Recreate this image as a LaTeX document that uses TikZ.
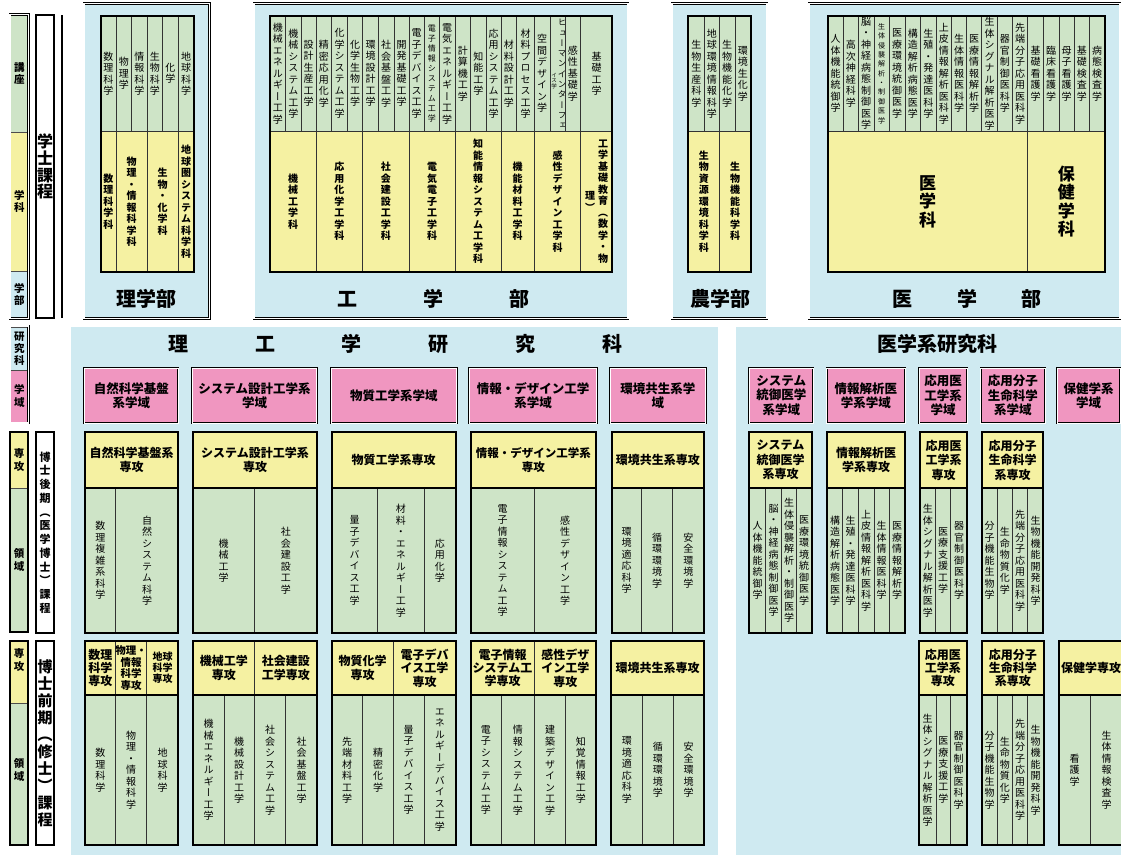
\documentclass[tikz,border=0pt]{standalone}
\usepackage{fontspec}
\setmainfont{Noto Sans CJK JP}
\newfontfamily\jpvert[RawFeature=+vert]{Noto Sans CJK JP}
\definecolor{lblue}{RGB}{207,234,241}
\definecolor{lgreen}{RGB}{206,228,199}
\definecolor{lyellow}{RGB}{245,241,162}
\definecolor{lpink}{RGB}{240,150,192}
\makeatletter
\def\vt@end{\vt@end}
\def\vt@aux#1{\ifx\vt@end#1\else\hbox to 1.1em{\hss#1\hss}\expandafter\vt@aux\fi}
\newcommand\vtB[1]{$\vcenter{\jpvert\baselineskip=\vtpitch\lineskiplimit=-\maxdimen\lineskip=0pt\vt@aux#1\vt@end}$}
\def\vt#1{\expandafter\vtB\expandafter{#1}}
\def\vtpitch{1.15em}
\makeatother
\newcounter{nc}
\newcommand\C[7][]{\stepcounter{nc}\node[#2,#1,minimum width={(#4)-(#3)},minimum height={(#6)-(#5)}] (n\arabic{nc}) at ({((#3)+(#4))/2},{((#5)+(#6))/2}) {#7};}
\newcommand\gcols[5][]{\xdef\px{#4}\foreach \xr/\tx in {#5}{\C[#1]{gcell}{\px}{\xr}{#2}{#3}{\vt{\tx}}\xdef\px{\xr}}}
\newcommand\ycols[5][]{\xdef\px{#4}\foreach \xr/\tx in {#5}{\C[#1]{ycell}{\px}{\xr}{#2}{#3}{\vt{\tx}}\xdef\px{\xr}}}
\tikzset{
 gcell/.style={draw=black!80, line width=0.8pt, fill=lgreen, inner sep=0pt, font=\fontsize{10}{12}\selectfont},
 ycell/.style={draw=black!80, line width=0.8pt, fill=lyellow, inner sep=0pt, font=\bfseries\fontsize{10}{12}\selectfont},
 hcell/.style={draw=black!80, line width=0.8pt, fill=lyellow, inner sep=0pt, align=center, font=\bfseries\fontsize{12}{14.5}\selectfont},
 pinkbox/.style={draw=black, double=white, double distance=1pt, line width=0.6pt, fill=lpink, inner sep=0pt, align=center, font=\bfseries\fontsize{12.5}{14.5}\selectfont},
 facbox/.style={draw=black, double=white, double distance=1.3pt, line width=0.6pt, fill=lblue, inner sep=0pt},
 dbl/.style={draw=black, double=white, double distance=1.1pt, line width=0.6pt},
 tbord/.style={draw=black, line width=2pt},
 ttl/.style={inner sep=0pt, font=\bfseries\fontsize{20}{20}\selectfont},
 lcell/.style={draw=black!70, line width=0.5pt, inner sep=0pt, font=\bfseries\fontsize{10.5}{12}\selectfont},
 cbox/.style={draw=black, line width=1.6pt, fill=white, inner sep=0pt},
 lab/.style={inner sep=0pt, font=\bfseries\fontsize{10.5}{12}\selectfont},
 small8/.style={font={\fontsize{8}{10}\selectfont\def\vtpitch{1.25em}}},
 small7/.style={font={\fontsize{7}{9}\selectfont\def\vtpitch{1.34em}}},
}
\begin{document}
\begin{tikzpicture}[x=1pt,y=-1pt]
\useasboundingbox (0,0) rectangle (1121,854);
\fill[white] (0,0) rectangle (1121,854);

% ================= left labels
\C[fill=lgreen]{lcell}{10}{28.5}{15}{132}{\vt{講座}}
\C[fill=lyellow]{lcell}{10}{28.5}{132}{271}{\vt{学科}}
\C[fill=lblue]{lcell}{10}{28.5}{271}{318}{\vt{学部}}
\draw[dbl] (10,14.5) rectangle (28.5,318.5);
\C[font={\bfseries\fontsize{16}{18}\selectfont\def\vtpitch{1.05em}}]{cbox}{36}{54}{15}{318}{\vt{学士課程}}
\draw[line width=1.6pt] (62,15) -- (62,318);

\C[fill=lblue]{lcell}{10}{28.5}{327}{370}{\vt{研究科}}
\C[fill=lpink]{lcell}{10}{28.5}{370}{422}{\vt{学域}}
\draw[dbl] (10,326) rectangle (28.5,423);

\C[fill=lyellow]{lcell}{10}{28}{432}{488}{\vt{専攻}}
\C[fill=lgreen]{lcell}{10}{28}{488}{632}{\vt{領域}}
\draw[line width=1.5pt] (10,432) rectangle (28,632);
\C[font={\bfseries\fontsize{11}{13}\selectfont\def\vtpitch{1.25em}}]{cbox}{36}{54}{432}{633}{\vt{博士後期（医学博士）課程}}

\C[fill=lyellow]{lcell}{10}{28}{641}{703}{}
\C[fill=lgreen]{lcell}{10}{28}{703}{845}{}
\node[lab] (lsa) at (19,660) {\vt{専攻}};
\node[lab] (lsb) at (19,770) {\vt{領域}};
\draw[line width=1.5pt] (10,641) rectangle (28,845);
\C[font={\bfseries\fontsize{15}{17}\selectfont\def\vtpitch{1.13em}}]{cbox}{36}{54}{641}{845}{\vt{博士前期（修士）課程}}

% ================= 理学部
\C{facbox}{84}{209.5}{3.5}{318.5}{}
\gcols{16}{131}{100.5}{116/数理科学,131.5/物理学,147/情報科学,162.5/生物科学,178/化学,194/地球科学}
\ycols{131}{272}{100.5}{116/数理科学科,147/物理・情報科学科,178/生物・化学科,194/地球圏システム科学科}
\draw[tbord] (100.5,16) rectangle (194,272);
\node[ttl] (f1) at (146,299) {理学部};

% ================= 工学部
\C{facbox}{254}{628}{3.5}{318.5}{}
\gcols{16}{131}{270}{285.7/機械エネルギー工学,301/機械システム工学,316/設計生産工学,331.7/精密応用化学,347.3/化学システム工学,362.7/化学生物工学,378.3/環境設計工学,394/社会基盤工学,409/開発基礎工学,424.3/電子デバイス工学}
\C[small8]{gcell}{424.3}{439.3}{16}{131}{\vt{電子情報システム工学}}
\gcols{16}{131}{439.3}{455/電気エネルギー工学,470.7/計算機工学,486/知能工学,501/応用システム工学,516.7/材料設計工学,534.3/材料プロセス工学,550/空間デザイン学}
\C{gcell}{550}{565}{16}{131}{}
\node[inner sep=0pt, font={\fontsize{8.5}{10}\selectfont\def\vtpitch{1.21em}}] (hu1) at (562,74) {\vt{ヒューマンインターフェ}};
\node[inner sep=0pt, font={\fontsize{5.5}{6}\selectfont\def\vtpitch{1em}}] (hu2) at (554,81) {\vt{イス学}};
\gcols{16}{131}{565}{580.7/感性基礎学,612.3/基礎工学}
\ycols{131}{272}{270}{316/機械工学科,362.7/応用化学工学科,409/社会建設工学科,455/電気電子工学科,501/知能情報システム工学科,534.3/機能材料工学科,580.7/感性デザイン工学科}
\C{ycell}{580.7}{612.3}{131}{272}{\vt{理）}\hspace{2pt}\vt{工学基礎教育（数学・物}}
\draw[tbord] (270,16) rectangle (612.3,272);
\node[ttl] (f2a) at (347.5,299) {工};
\node[ttl] (f2b) at (433,299) {学};
\node[ttl] (f2c) at (519,299) {部};

% ================= 農学部
\C{facbox}{672}{767}{3.5}{318.5}{}
\gcols{16}{131}{688.3}{704.3/生物生産科学,719.3/地球環境情報科学,735/生物機能化学,750.7/環境生化学}
\ycols{131}{272}{688.3}{719.3/生物資源環境科学科,750.7/生物機能科学科}
\draw[tbord] (688.3,16) rectangle (750.7,272);
\node[ttl] (f3) at (720.5,299) {農学部};

% ================= 医学部
\C{facbox}{809}{1120}{3.5}{318.5}{}
\gcols{16}{131}{827.7}{843.3/人体機能統御学,858.3/高次神経科学,874/脳・神経病態制御医学}
\C[small7]{gcell}{874}{889.3}{16}{131}{\vt{生体侵襲解析・制御医学}}
\gcols{16}{131}{889.3}{905/医療環境統御医学,920.7/構造解析病態医学,936/生殖・発達医科学,951.7/上皮情報解析医科学,966.7/生体情報医科学,981.7/医療情報解析学,997.3/生体シグナル解析医学,1012.3/器官制御医科学,1027.7/先端分子応用医科学,1043.3/基礎看護学,1059/臨床看護学,1074.3/母子看護学,1089.3/基礎検査学,1105/病態検査学}
\C[font={\bfseries\fontsize{17}{19}\selectfont\def\vtpitch{1.09em}}]{ycell}{827.7}{1027.7}{131}{272}{\vt{医学科}}
\C[font={\bfseries\fontsize{17}{19}\selectfont\def\vtpitch{1.09em}}]{ycell}{1027.7}{1105}{131}{272}{\vt{保健学科}}
\draw[tbord] (827.7,16) rectangle (1105,272);
\node[ttl] (f4a) at (902.5,299) {医};
\node[ttl] (f4b) at (967,299) {学};
\node[ttl] (f4c) at (1031,299) {部};

% ================= panels
\fill[lblue] (70,326) rectangle (719,860);
\draw[dbl] (70,860) -- (70,326) -- (719,326) -- (719,860);
\fill[lblue] (735,326) rectangle (1125,860);
\draw[dbl] (735,860) -- (735,326) -- (1125,326);
\node[ttl] (g1) at (178,344) {理};
\node[ttl] (g2) at (265,344) {工};
\node[ttl] (g3) at (351,344) {学};
\node[ttl] (g4) at (438,344) {研};
\node[ttl] (g5) at (525,344) {究};
\node[ttl] (g6) at (612,344) {科};
\node[ttl] (g7) at (937,344) {医学系研究科};

% ================= 学域
\C{pinkbox}{84.3}{178.3}{368}{423}{自然科学基盤\\系学域}
\C{pinkbox}{192.3}{316.7}{368}{423}{システム設計工学系\\学域}
\C{pinkbox}{331}{456.7}{368}{423}{物質工学系学域}
\C{pinkbox}{469.3}{596.7}{368}{423}{情報・デザイン工学\\系学域}
\C{pinkbox}{610}{705.7}{368}{423}{環境共生系学\\域}
\C{pinkbox}{749.3}{813.3}{368}{423}{システム\\統御医学\\系学域}
\C{pinkbox}{826.7}{905}{368}{423}{情報解析医\\学系学域}
\C{pinkbox}{919}{967.3}{368}{423}{応用医\\工学系\\学域}
\C{pinkbox}{980.7}{1045}{368}{423}{応用分子\\生命科学\\系学域}
\C{pinkbox}{1057.3}{1120}{368}{423}{保健学系\\学域}

% ================= 博士後期 専攻
\C{hcell}{85}{178.3}{432}{488}{自然科学基盤系\\専攻}
\gcols{488}{633}{85}{115.7/数理複雑系科学,178.3/自然システム科学}
\C{hcell}{192.7}{317.3}{432}{488}{システム設計工学系\\専攻}
\gcols{488}{633}{192.7}{254.3/機械工学,317.3/社会建設工学}
\C{hcell}{331.7}{455.7}{432}{488}{物質工学系専攻}
\gcols{488}{633}{331.7}{377.7/量子デバイス工学,424/材料・エネルギー工学,455.7/応用化学}
\C[font=\bfseries\fontsize{11.5}{14.5}\selectfont]{hcell}{470.7}{596}{432}{488}{情報・デザイン工学系\\専攻}
\gcols{488}{633}{470.7}{534.3/電子情報システム工学,596/感性デザイン工学}
\C{hcell}{611.7}{704}{432}{488}{環境共生系専攻}
\gcols{488}{633}{611.7}{641.7/環境適応科学,672.7/循環環境学,704/安全環境学}
\C{hcell}{749.3}{811.7}{432}{488}{システム\\統御医学\\系専攻}
\gcols{488}{633}{749.3}{765.7/人体機能統御学,781.7/脳・神経病態制御医学,796.7/生体侵襲解析・制御医学,811.7/医療環境統御医学}
\C{hcell}{827.3}{905}{432}{488}{情報解析医\\学系専攻}
\gcols{488}{633}{827.3}{842.7/構造解析病態医学,858.3/生殖・発達医科学,874/上皮情報解析医科学,889.3/生体情報医科学,905/医療情報解析学}
\C{hcell}{920}{967.3}{432}{488}{応用医\\工学系\\専攻}
\gcols{488}{633}{920}{935.7/生体シグナル解析医学,950.7/医療支援工学,967.3/器官制御医科学}
\C{hcell}{981.7}{1043.3}{432}{488}{応用分子\\生命科学\\系専攻}
\gcols{488}{633}{981.7}{997.3/分子機能生物学,1012.3/生命物質化学,1027.7/先端分子応用医科学,1043.3/生物機能開発科学}
\foreach \a/\b in {85/178.3,192.7/317.3,331.7/455.7,470.7/596,611.7/704,749.3/811.7,827.3/905,920/967.3,981.7/1043.3}{
 \draw[tbord] (\a,432) rectangle (\b,633);
 \draw[tbord] (\a,488) -- (\b,488);
}

% ================= 博士前期 専攻
\C[font=\bfseries\fontsize{12}{13.3}\selectfont]{hcell}{85}{115.7}{641}{695}{数理\\科学\\専攻}
\C[font=\bfseries\fontsize{10.5}{11.4}\selectfont]{hcell}{115.7}{146.7}{641}{695}{物理・\\情報\\科学\\専攻}
\C[font=\bfseries\fontsize{10}{11}\selectfont]{hcell}{146.7}{178.3}{641}{695}{地球\\科学\\専攻}
\gcols{695}{845}{85}{115.7/数理科学,146.7/物理・情報科学,178.3/地球科学}
\C{hcell}{193.3}{254.3}{641}{695}{機械工学\\専攻}
\C{hcell}{254.3}{317.3}{641}{695}{社会建設\\工学専攻}
\gcols{695}{845}{193.3}{224/機械エネルギー工学,254.3/機械設計工学,285.7/社会システム工学,317.3/社会基盤工学}
\C{hcell}{331.7}{393.3}{641}{695}{物質化学\\専攻}
\C[font=\bfseries\fontsize{12}{13.7}\selectfont]{hcell}{393.3}{455.7}{641}{695}{電子デバ\\イス工学\\専攻}
\gcols{695}{845}{331.7}{362.7/先端材料工学,393.3/精密化学,424/量子デバイス工学,455.7/エネルギーデバイス工学}
\C[font=\bfseries\fontsize{12}{13.3}\selectfont]{hcell}{470.5}{534.5}{641}{695}{電子情報\\システム工\\学専攻}
\C[font=\bfseries\fontsize{12}{13.3}\selectfont]{hcell}{534.5}{596}{641}{695}{感性デザ\\イン工学\\専攻}
\gcols{695}{845}{470.5}{501.3/電子システム工学,534.5/情報システム工学,565.5/建築デザイン工学,596/知覚情報工学}
\C{hcell}{611}{704}{641}{695}{環境共生系専攻}
\gcols{695}{845}{611}{642.7/環境適応科学,673/循環環境学,704/安全環境学}
\C[font=\bfseries\fontsize{12}{13.3}\selectfont]{hcell}{919}{966.5}{641}{695}{応用医\\工学系\\専攻}
\gcols{695}{845}{919}{936/生体シグナル解析医学,950.7/医療支援工学,966.5/器官制御医科学}
\C[font=\bfseries\fontsize{12}{13.3}\selectfont]{hcell}{982}{1043.5}{641}{695}{応用分子\\生命科学\\系専攻}
\gcols{695}{845}{982}{997/分子機能生物学,1012.7/生命物質化学,1027.5/先端分子応用医科学,1043.5/生物機能開発科学}
\C{hcell}{1059}{1123}{641}{695}{保健学専攻}
\gcols{695}{845}{1059}{1090/看護学,1123/生体情報検査学}
\foreach \a/\b in {85/178.3,193.3/317.3,331.7/455.7,470.5/596,611/704,919/966.5,982/1043.5,1059/1123}{
 \draw[tbord] (\a,641) rectangle (\b,845);
 \draw[tbord] (\a,695) -- (\b,695);
}
\end{tikzpicture}
\end{document}
